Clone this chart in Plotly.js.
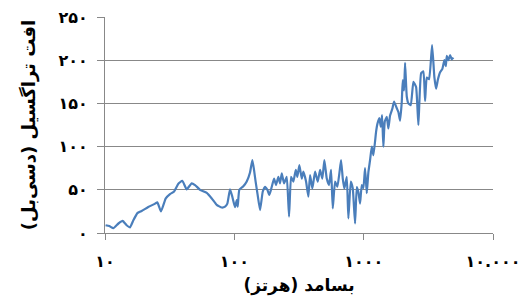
<!DOCTYPE html>
<html>
<head>
<meta charset="utf-8">
<script src="https://cdn.plot.ly/plotly-3.0.1.min.js"></script>
<style>body{margin:0;padding:0;background:#fff;}#chart{width:527px;height:305px;}</style>
</head>
<body>
<div id="chart"></div>
<script>
// Frequency (Hz)
const freq = [10.1,10.8,11.6,12.7,13.7,14.7,15.6,16.6,17.8,19.2,21.6,24.4,25.4,27.1,29.5,31.8,34.2,36.9,39.6,42.8,
46.8,49.7,54.3,61.2,66.9,73.1,79.9,84.8,88.3,92.6,96.5,101.2,104.4,106.2,109.3,117.4,124.7,132.2,137.8,142.0,
145.9,151.1,158.1,165.9,172.8,180.0,186.6,194.7,202.8,210.1,219.0,225.7,232.6,242.3,254.2,264.9,274.5,286.0,298.5,307.1,
318.3,332.2,341.8,358.6,373.6,385.1,401.2,421.0,441.6,460.1,479.3,496.7,518.4,540.1,559.7,576.8,601.0,626.1,648.8,668.7,
689.3,709.3,740.2,761.6,794.8,823.7,858.2,884.6,910.2,938.0,966.7,994.8,1025,1057,1087,1121,1155,1189,1247,1276,
1322,1356,1388,1420,1456,1509,1552,1600,1667,1718,1797,1855,1912,1971,2006,2053,2090,2154,2216,2313,
2423,2543,2649,2780,2896,2985,3076,3205,3381,3523,3631,3743,3899,4061,4208,4315,4392,4519,4659,4802,4941];
// Transmission loss (dB)
const loss = [9,8,5.5,11,14,9,6.5,15,23,25.5,30,34,35.5,25,40,45,48,57,60.5,50.5,
57.5,55.5,50,46.5,40,32.5,29.5,30.5,34,50.5,42,30,38,30.5,50,54,59.5,70,84.5,73,
60,45,26.5,48,53.5,50,44,53.5,63,55.5,65,57.5,69,57.5,65,19,65,59.5,73,65,
78.5,63,71,59.5,42,67,51.5,71,59.5,73,63,84.5,63,55.5,73,28.5,59.5,53.5,69,84.5,
63,51.5,65,17,59.5,51.5,11,53,47.5,34,55.5,52,75,46,70,84.5,100,90,117,126,
133,123,136.5,100,129,134.5,121,136,144,152,145,140,130,152,177,165,197,158,150,148,
175,169,125,185,187,153,180,178,217.5,180,167,177,186,190,200,193,205,200,206,201,203];

const xTickVals = [10, 100, 1000, 10000];
const xTickText = ['۱۰', '۱۰۰', '۱۰۰۰', '۱۰.۰۰۰'];
const yTickVals = [0, 50, 100, 150, 200, 250];
const yTickText = ['۰', '۵۰', '۱۰۰', '۱۵۰', '۲۰۰', '۲۵۰'];

const xTitle = 'بسامد (هرتز)';
const yTitle = 'افت تراگسیل (دسی‌بل)';

const fontFam = 'DejaVu Sans, Noto Sans, sans-serif';

Plotly.newPlot('chart', [{
  x: freq, y: loss, type: 'scatter', mode: 'lines',
  line: {color: '#4a7ebb', width: 2.2, shape: 'spline', smoothing: 0.4},
  hoverinfo: 'skip'
}], {
  width: 527, height: 305,
  margin: {l: 105, r: 34, t: 17, b: 72},
  paper_bgcolor: '#fff', plot_bgcolor: '#fff',
  showlegend: false,
  font: {family: fontFam, color: '#000'},
  xaxis: {
    type: 'log', range: [1, 4],
    tickvals: xTickVals, ticktext: xTickText,
    ticks: 'outside', ticklen: 6, tickcolor: '#888', tickwidth: 1,
    showline: true, linecolor: '#888', linewidth: 1,
    showgrid: false, zeroline: false,
    tickfont: {size: 16, family: fontFam, color: '#000', weight: 'bold'},
    ticklabelstandoff: 8,
    title: {text: xTitle, font: {size: 17, family: fontFam, color: '#000', weight: 'bold'}, standoff: 8}
  },
  yaxis: {
    range: [0, 250],
    tickvals: yTickVals, ticktext: yTickText,
    ticks: 'outside', ticklen: 7, tickcolor: '#888', tickwidth: 1,
    showline: true, linecolor: '#888', linewidth: 1,
    showgrid: true, gridcolor: '#888', gridwidth: 1, zeroline: false,
    tickfont: {size: 16, family: fontFam, color: '#000', weight: 'bold'},
    ticklabelstandoff: 6,
    title: {text: yTitle, font: {size: 18, family: fontFam, color: '#000', weight: 'bold'}, standoff: 18}
  }
}, {staticPlot: true});
</script>
</body>
</html>
